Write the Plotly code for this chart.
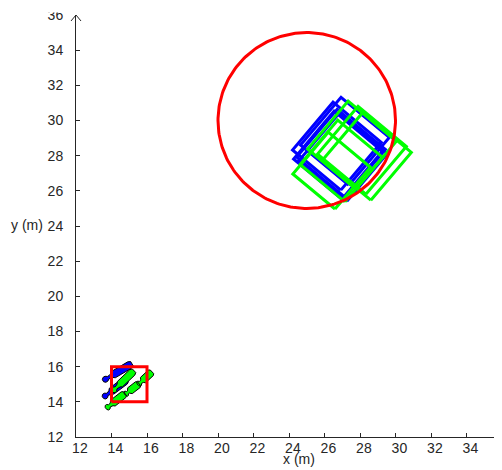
import numpy as np
import plotly.graph_objects as go

# ---------------- data ----------------
x_ticks = list(range(12, 37, 2))
y_ticks = list(range(12, 37, 2))
x_tick_labels = [str(v) for v in x_ticks]
y_tick_labels = [str(v) for v in y_ticks]

# target region (circle) and start region (square)
circle_cx, circle_cy, circle_r = 25.0, 30.0, 5.0
start_x0, start_y0, start_x1, start_y1 = 14.0, 14.0, 16.0, 16.0

# final formation squares (centre, rotation in degrees, side)
blue_cx = [26.70, 27.15, 26.76, 26.93, 27.04]
blue_cy = [28.54, 28.82, 28.03, 28.14, 27.91]
blue_ang = [50, 50, 50, 50, 50]
blue_side = [3.55, 3.55, 3.55, 3.55, 3.55]
green_cx = [26.40, 26.95, 27.55, 28.11, 28.39]
green_cy = [27.15, 27.70, 28.60, 28.31, 27.97]
green_ang = [50, 50, 50, 50, 50]
green_side = [3.1, 3.3, 3.55, 3.55, 3.55]

# initial agents (tail -> head)
blue_tail_x = [13.52, 13.52]
blue_tail_y = [15.20, 14.24]
blue_head_x = [15.15, 14.87]
blue_head_y = [16.17, 15.26]
green_tail_x = [13.69, 14.03, 14.76, 15.49]
green_tail_y = [13.62, 14.58, 14.41, 14.97]
green_head_x = [14.76, 15.27, 15.55, 16.28]
green_head_y = [14.47, 15.77, 15.03, 15.71]

# agent outline profile (fraction along body, half width)
prof_t = [0.0, 0.05, 0.12, 0.18, 0.24, 0.30, 0.36, 0.92, 1.0]
prof_w = [0.07, 0.16, 0.16, 0.08, 0.08, 0.12, 0.21, 0.21, 0.14]

BLUE = "#0000FF"
GREEN = "#00FF00"
RED = "#FF0000"
AX = "#262626"
FONT = "Liberation Sans, Arial, Helvetica, sans-serif"


def squares(cx, cy, ang, side):
    xs, ys = [], []
    for x, y, a, sd in zip(cx, cy, ang, side):
        h = sd / 2
        base = [(-h, -h), (h, -h), (h, h), (-h, h), (-h, -h)]
        t = np.deg2rad(a)
        c, s = np.cos(t), np.sin(t)
        for u, v in base:
            xs.append(x + c * u - s * v)
            ys.append(y + s * u + c * v)
        xs.append(None)
        ys.append(None)
    return xs, ys


def agents(tx, ty, hx, hy):
    xs, ys = [], []
    for x0, y0, x1, y1 in zip(tx, ty, hx, hy):
        d = np.array([x1 - x0, y1 - y0])
        n = np.array([-d[1], d[0]]) / np.linalg.norm(d)
        left, right = [], []
        for t, w in zip(prof_t, prof_w):
            p = np.array([x0, y0]) + t * d
            left.append(p + w * n)
            right.append(p - w * n)
        pts = left + right[::-1] + [left[0]]
        xs += [float(p[0]) for p in pts] + [None]
        ys += [float(p[1]) for p in pts] + [None]
    return xs, ys


fig = go.Figure()

bx, by = squares(blue_cx, blue_cy, blue_ang, blue_side)
gx, gy = squares(green_cx, green_cy, green_ang, green_side)
fig.add_trace(go.Scatter(x=bx, y=by, mode="lines", line=dict(color=BLUE, width=3),
                         hoverinfo="skip", showlegend=False))
fig.add_trace(go.Scatter(x=gx, y=gy, mode="lines", line=dict(color=GREEN, width=3),
                         hoverinfo="skip", showlegend=False))

ax_, ay_ = agents(blue_tail_x, blue_tail_y, blue_head_x, blue_head_y)
fig.add_trace(go.Scatter(x=ax_, y=ay_, mode="lines", fill="toself", fillcolor=BLUE,
                         line=dict(color="black", width=1), hoverinfo="skip", showlegend=False))
ax_, ay_ = agents(green_tail_x, green_tail_y, green_head_x, green_head_y)
fig.add_trace(go.Scatter(x=ax_, y=ay_, mode="lines", fill="toself", fillcolor=GREEN,
                         line=dict(color="black", width=1), hoverinfo="skip", showlegend=False))

# start square
fig.add_trace(go.Scatter(x=[start_x0, start_x1, start_x1, start_x0, start_x0],
                         y=[start_y0, start_y0, start_y1, start_y1, start_y0],
                         mode="lines", line=dict(color=RED, width=3),
                         hoverinfo="skip", showlegend=False))
# target circle
th = np.linspace(0, 2 * np.pi, 241)
fig.add_trace(go.Scatter(x=circle_cx + circle_r * np.cos(th), y=circle_cy + circle_r * np.sin(th),
                         mode="lines", line=dict(color=RED, width=3),
                         hoverinfo="skip", showlegend=False))

# the page body has an 8px margin, so the figure is drawn at (8, 8)
OFF = 8
W, H = 502 - OFF, 470 - OFF
ML, MR, MT, MB = 76 - OFF, 0, 14.5 - OFF, 470 - 437.5
pw, ph = W - ML - MR, H - MT - MB

axis_common = dict(ticks="inside", ticklen=4, tickwidth=1, tickcolor=AX,
                   showline=True, linecolor=AX, linewidth=1, showgrid=False,
                   zeroline=False, automargin=False, ticklabeloverflow="allow",
                   tickfont=dict(family=FONT, size=14, color=AX))

NB = "\u00a0"
fig.update_layout(
    width=W, height=H,
    margin=dict(l=ML, r=MR, t=MT, b=MB, pad=0),
    paper_bgcolor="white", plot_bgcolor="white",
    xaxis=dict(range=[12, 36], tickvals=x_ticks,
               ticktext=[NB * 2 + s for s in x_tick_labels],
               ticklabelstandoff=-2, **axis_common),
    yaxis=dict(range=[12, 36], tickvals=y_ticks, ticktext=y_tick_labels,
               ticklabelstandoff=9, **axis_common),
    showlegend=False,
)

# arrow heads on axes
ax_len, ax_w = 5, 5
fig.add_shape(type="path", xref="paper", yref="paper",
              path=f"M {-ax_w/pw},{1-6/ph} L 0,1 L {ax_w/pw},{1-6/ph}",
              line=dict(color=AX, width=1), layer="above")
fig.add_shape(type="path", xref="paper", yref="paper",
              path=f"M {1-ax_len/pw},{ax_w/ph} L 1,0 L {1-ax_len/pw},{-ax_w/ph}",
              line=dict(color=AX, width=1), layer="above")
# page top edge (clips the topmost tick label as in the original)
fig.add_shape(type="rect", xref="paper", yref="paper",
              x0=-0.3, x1=1.1, y0=1 + 2.5 / ph, y1=1.2,
              fillcolor="white", line=dict(width=0), layer="above")


def px_to_paper(sx, sy):
    return (sx - OFF - ML) / pw, (H - MB - (sy - OFF)) / ph


xl, yl = px_to_paper(299, 460)
fig.add_annotation(text="x (m)", xref="paper", yref="paper", x=xl, y=yl,
                   xanchor="center", yanchor="middle", showarrow=False,
                   font=dict(family=FONT, size=14, color=AX))
xl, yl = px_to_paper(8.5, 225)
fig.add_annotation(text="y (m)", xref="paper", yref="paper", x=xl, y=yl,
                   xanchor="left", yanchor="middle", showarrow=False,
                   font=dict(family=FONT, size=14, color=AX))

fig.write_html("out.html")
